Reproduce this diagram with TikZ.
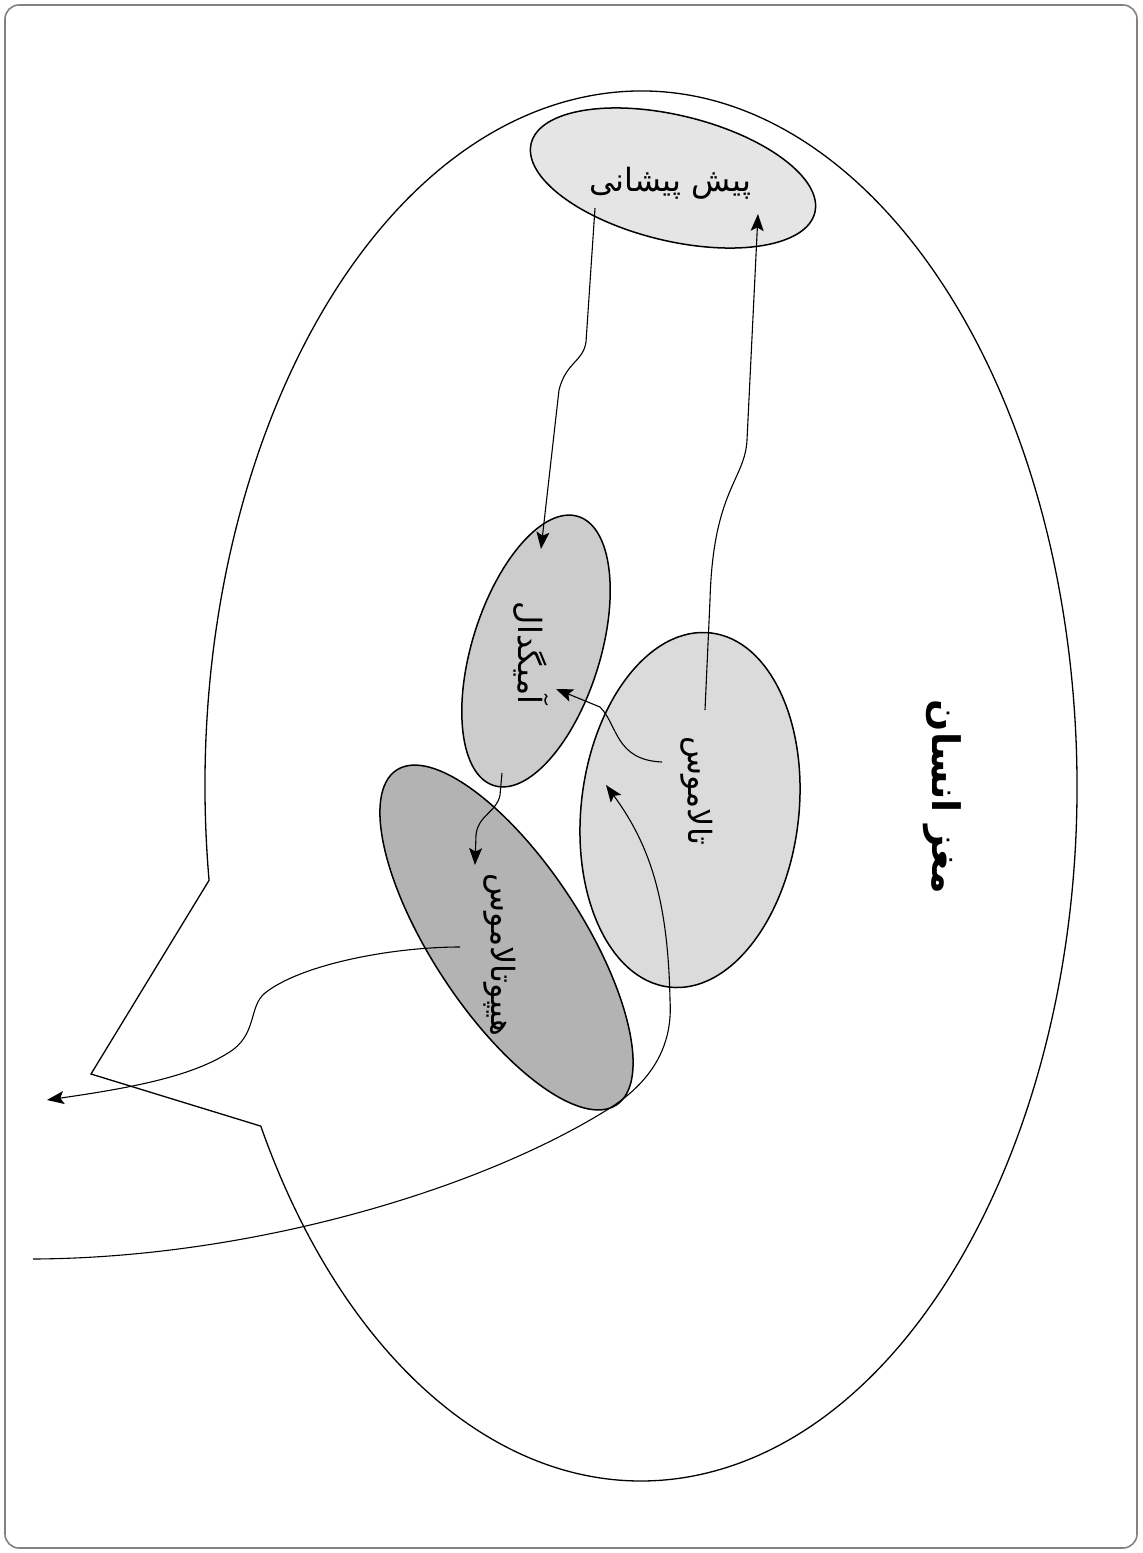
\documentclass[tikz,border=0pt]{standalone}
\usepackage{fontspec}
\usetikzlibrary{shapes.geometric,arrows.meta}
\newfontfamily\arabicfont[Script=Arabic]{DejaVu Sans}
\TeXXeTstate=1
\definecolor{pfcgray}{RGB}{228,229,228}
\definecolor{amygray}{RGB}{204,204,204}
\definecolor{thalgray}{RGB}{219,219,219}
\definecolor{hypgray}{RGB}{179,179,179}
\definecolor{framegray}{RGB}{130,130,130}
\tikzset{
  region/.style={ellipse, draw=black, line width=0.75pt, inner sep=0pt},
  areatext/.style={inner sep=0pt, font=\arabicfont\fontsize{16}{19}\selectfont},
  pathway/.style={draw=black, line width=0.55pt, -{Stealth[length=8.5pt,width=6.5pt,inset=1.8pt]}},
  outline/.style={draw=black, line width=0.65pt},
}
\begin{document}
\begin{tikzpicture}[x=0.5pt,y=-0.5pt]
\useasboundingbox (0,0) rectangle (1142,1553);
% frame
\draw[framegray, line width=0.8pt, rounded corners=7pt] (5,5) rectangle (1137,1548);

% brain outline: an elliptical arc closed by the brain-stem notch
\coordinate (notch) at (91,1074);
\begin{scope}[shift={(641,786)}]
  \draw[outline] (172.2:436 and 695)
    arc[start angle=172.2, end angle=510.7, x radius=436, y radius=695]
    -- (notch) -- cycle;
\end{scope}

% regions
\node[region, fill=pfcgray, minimum width=146pt, minimum height=62.7pt, rotate=-13.7] (pfc) at (673,178) {};
\node[region, fill=amygray, minimum width=141pt, minimum height=64pt, rotate=72.6] (amy) at (536,651) {};
\node[region, fill=thalgray, minimum width=178.3pt, minimum height=108.8pt, rotate=83.3] (thal) at (690,810) {};
\node[region, fill=hypgray, minimum width=200.3pt, minimum height=75pt, rotate=-56.7] (hyp) at (506.5,937.5) {};

% labels
\node[areatext] (pfc-t) at (670,183) {\beginR پیش پیشانی\endR};
\node[areatext, rotate=-90] (amy-t) at (531,653) {\beginR آمیگدال\endR};
\node[areatext, rotate=-90] (thal-t) at (697,791) {\beginR تالاموس\endR};
\node[areatext, rotate=-90] (hyp-t) at (500,955) {\beginR هیپوتالاموس\endR};
\node[areatext, rotate=-90, font=\arabicfont\bfseries\fontsize{19}{22}\selectfont] (brain-t) at (942,797) {\beginR مغز انسان\endR};

% connector end points
\coordinate (pfc-out) at (595,208);
\coordinate (amy-in) at (541,549);
\coordinate (thal-up) at (705,710);
\coordinate (pfc-in) at (758,214);
\coordinate (thal-left) at (662,762);
\coordinate (amy-side) at (556,689);
\coordinate (amy-out) at (502,773);
\coordinate (hyp-in) at (475,865);
\coordinate (hyp-out) at (460,947);
\coordinate (body-out) at (47,1100);
\coordinate (body-in) at (33,1259);
\coordinate (thal-in) at (606,785);

% pathways
\draw[pathway] (pfc-out) -- (586,342) .. controls (583,362) and (566,362) .. (559,390) -- (amy-in);
\draw[pathway] (thal-up) -- (710,600) .. controls (713,490) and (745,480) .. (747,440) -- (pfc-in);
\draw[pathway] (thal-left) .. controls (615,760) and (618,725) .. (600,707) -- (amy-side);
\draw[pathway] (amy-out) -- (500,795) .. controls (497,812) and (478,815) .. (476,835) -- (hyp-in);
\draw[pathway] (hyp-out) .. controls (390,947) and (300,965) .. (265,993)
  .. controls (248,1007) and (258,1035) .. (228,1053)
  .. controls (190,1077) and (130,1088) .. (body-out);
\draw[pathway] (body-in) .. controls (250,1258) and (480,1190) .. (610,1108)
  .. controls (665,1073) and (672,1030) .. (670,1000)
  .. controls (668,900) and (650,845) .. (thal-in);
\end{tikzpicture}
\end{document}
